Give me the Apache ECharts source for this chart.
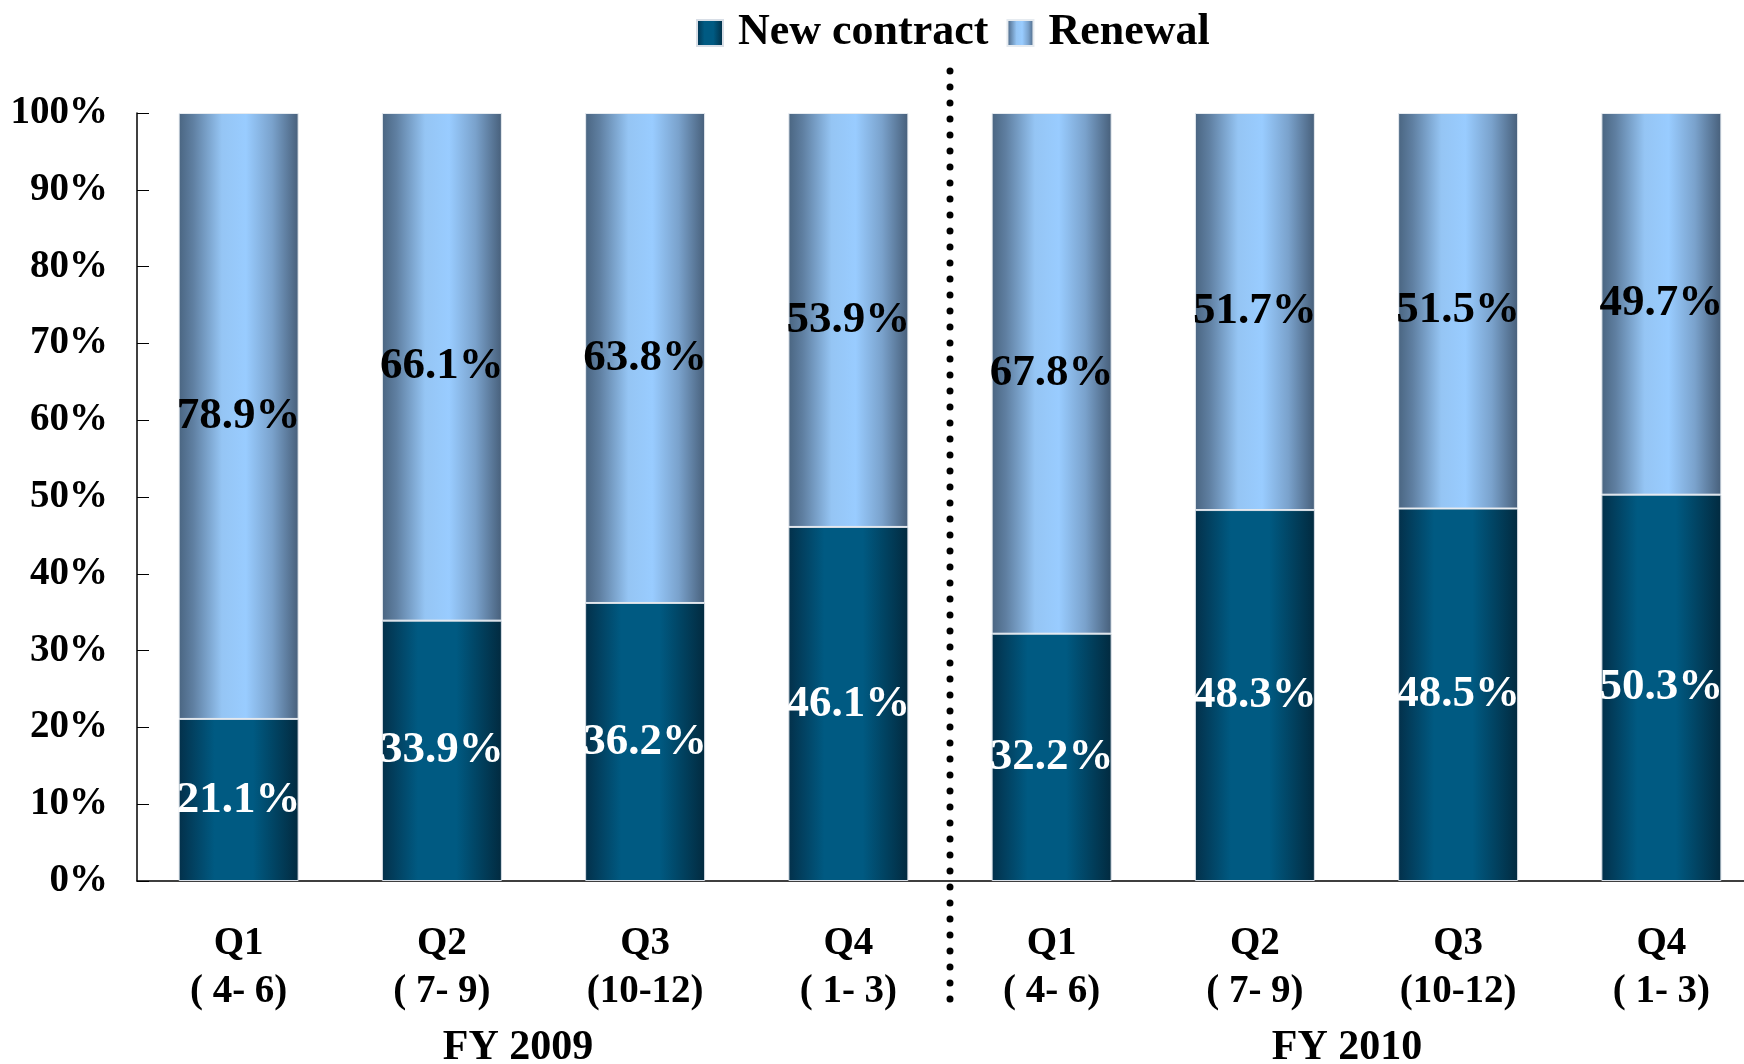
<!DOCTYPE html>
<html>
<head>
<meta charset="utf-8">
<script src="https://cdn.jsdelivr.net/npm/echarts@6/dist/echarts.min.js"></script>
<style>
  html, body { margin: 0; padding: 0; background: #fff; }
  #main { width: 1744px; height: 1064px; }
</style>
</head>
<body>
<div id="main"></div>
<script>
// data
var quarters = ['Q1\n( 4- 6)', 'Q2\n( 7- 9)', 'Q3\n(10-12)', 'Q4\n( 1- 3)',
                'Q1\n( 4- 6)', 'Q2\n( 7- 9)', 'Q3\n(10-12)', 'Q4\n( 1- 3)'];
var newContract = [21.1, 33.9, 36.2, 46.1, 32.2, 48.3, 48.5, 50.3];
var renewal = [78.9, 66.1, 63.8, 53.9, 67.8, 51.7, 51.5, 49.7];
var fiscalYears = ['FY 2009', 'FY 2010'];
var yTicks = [0, 100, 10]; // min, max, interval

var serif = "'Liberation Serif', 'Times New Roman', serif";

var myChart = echarts.init(document.getElementById('main'));

function grad(stops) {
  return new echarts.graphic.LinearGradient(0, 0, 1, 0, stops);
}

var option = {
  animation: false,
  legend: {
    left: 691,
    top: 6,
    itemWidth: 26,
    itemHeight: 26,
    itemGap: 18,
    icon: 'rect',
    textStyle: {
      fontFamily: serif,
      fontWeight: 'bold',
      fontSize: 44,
      color: '#000',
      padding: [0, 0, 0, 10]
    },
    data: ['New contract', 'Renewal']
  },
  grid: {
    left: 137,
    width: 1626,   // last category runs past the right edge, as in the original
    top: 113,
    bottom: 183,
    outerBoundsMode: 'none'
  },
  xAxis: {
    type: 'category',
    data: quarters,
    axisLine: { lineStyle: { color: '#000', width: 1.5 } },
    axisTick: { inside: true, length: 12, lineStyle: { color: '#777' } },
    axisLabel: {
      margin: 39,
      fontFamily: serif,
      fontWeight: 'bold',
      fontSize: 39,
      lineHeight: 48,
      color: '#000',
      interval: 0
    }
  },
  yAxis: {
    type: 'value',
    min: yTicks[0],
    max: yTicks[1],
    interval: yTicks[2],
    splitLine: { show: false },
    axisLine: { show: true, lineStyle: { color: '#000', width: 1.5 } },
    axisTick: { show: true, inside: true, length: 12, lineStyle: { color: '#000' } },
    axisLabel: {
      margin: 29,
      formatter: '{value}%',
      fontFamily: serif,
      fontWeight: 'bold',
      fontSize: 39,
      color: '#000'
    }
  },
  series: [{
    name: 'New contract',
    type: 'bar',
    stack: 'total',
    barWidth: 120,
    data: newContract,
    itemStyle: {
      color: grad([
        { offset: 0, color: '#03304a' },
        { offset: 0.3, color: '#005a82' },
        { offset: 0.62, color: '#005a82' },
        { offset: 1, color: '#022a3f' }
      ]),
      borderColor: '#d8dee6',
      borderWidth: 1
    },
    label: {
      show: true,
      position: 'inside',
      formatter: function (p) { return p.value.toFixed(1) + '%'; },
      fontFamily: serif,
      fontWeight: 'bold',
      fontSize: 45,
      color: '#fff'
    }
  }, {
    name: 'Renewal',
    type: 'bar',
    stack: 'total',
    barWidth: 120,
    data: renewal,
    itemStyle: {
      color: grad([
        { offset: 0, color: '#4a6581' },
        { offset: 0.12, color: '#5f7fa1' },
        { offset: 0.36, color: '#95c5f4' },
        { offset: 0.56, color: '#99ccff' },
        { offset: 0.78, color: '#7aa2cc' },
        { offset: 1, color: '#475f7a' }
      ]),
      borderColor: '#e6ebf0',
      borderWidth: 1
    },
    label: {
      show: true,
      position: 'inside',
      formatter: function (p) { return p.value.toFixed(1) + '%'; },
      fontFamily: serif,
      fontWeight: 'bold',
      fontSize: 45,
      color: '#000'
    }
  }]
};

myChart.setOption(option);

// divider between the two fiscal years, at the category boundary
var x3 = myChart.convertToPixel({ xAxisIndex: 0 }, 3);
var x4 = myChart.convertToPixel({ xAxisIndex: 0 }, 4);
var divX = (x3 + x4) / 2;

myChart.setOption({
  graphic: [{
    type: 'line',
    shape: { x1: divX, y1: 71, x2: divX, y2: 1006 },
    style: { stroke: '#000', lineWidth: 7, lineDash: [0, 16], lineCap: 'round' },
    z: 10
  }, {
    type: 'text',
    x: 518,
    y: 1048,
    style: {
      text: fiscalYears[0],
      font: 'bold 42px ' + serif,
      fill: '#000',
      align: 'center',
      verticalAlign: 'middle'
    }
  }, {
    type: 'text',
    x: 1347,
    y: 1048,
    style: {
      text: fiscalYears[1],
      font: 'bold 42px ' + serif,
      fill: '#000',
      align: 'center',
      verticalAlign: 'middle'
    }
  }]
});

window.addEventListener('resize', function () {
  myChart.resize();
});
</script>
</body>
</html>
